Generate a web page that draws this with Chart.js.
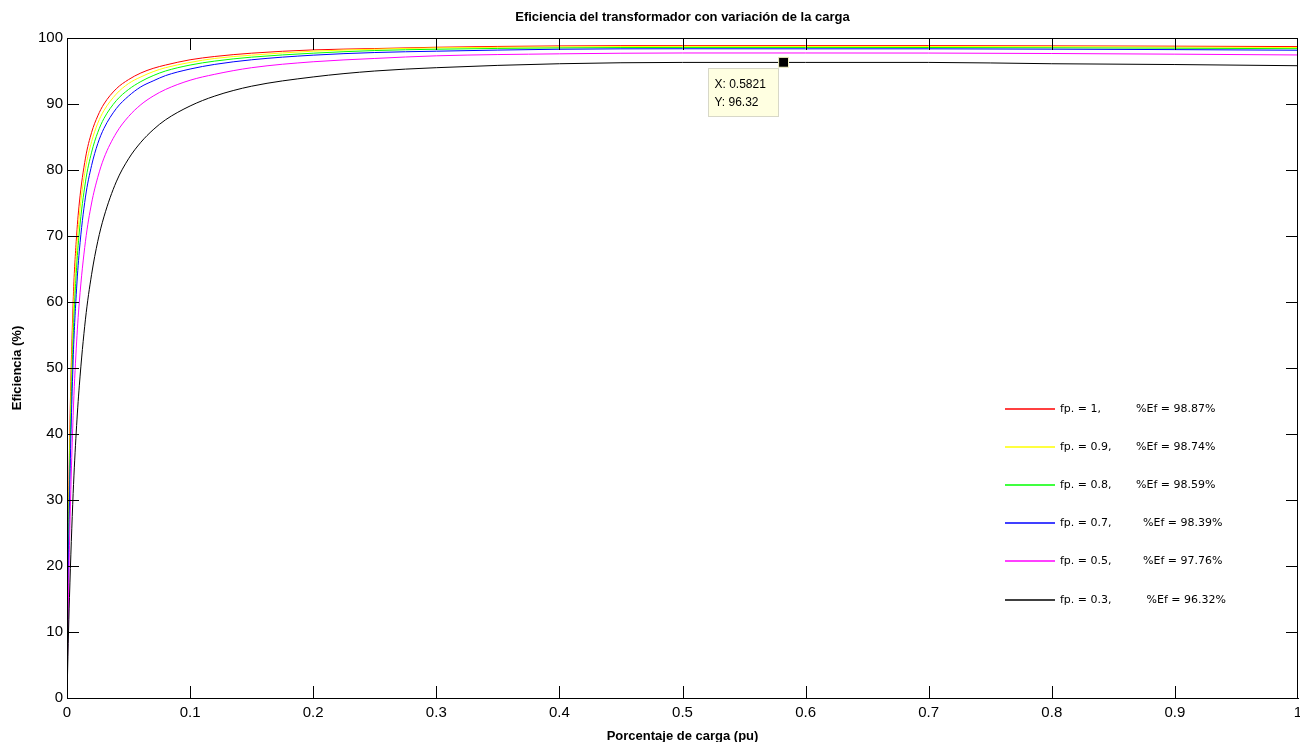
<!DOCTYPE html>
<html>
<head>
<meta charset="utf-8">
<title>Eficiencia del transformador</title>
<script src="https://cdn.jsdelivr.net/npm/chart.js@4.4.0/dist/chart.umd.min.js"></script>
<style>
    html, body { margin: 0; padding: 0; background: #fff; }
    #wrap { width: 1300px; height: 742px; }
</style>
</head>
<body>
<div id="wrap"><canvas id="myChart" width="1300" height="742"></canvas></div>
<script>
// carga en pu (eje x)
const carga = [0, 0.001, 0.002, 0.005, 0.0075, 0.01, 0.015, 0.02, 0.025, 0.03, 0.04, 0.05, 0.06, 0.07,
    0.08, 0.1, 0.12, 0.15, 0.2, 0.25, 0.3, 0.4, 0.5, 0.6, 0.7, 0.8, 0.9, 1.0];

const ef_fp10 = [0, 23.1, 37.5, 60.0, 69.2, 75.0, 81.8, 85.7, 88.2, 90.0, 92.3, 93.7, 94.7, 95.4,
    95.9, 96.7, 97.2, 97.7, 98.2, 98.4, 98.6, 98.8, 98.85, 98.85, 98.85, 98.81, 98.76, 98.70];
const ef_fp09 = [0, 21.2, 35.0, 57.4, 66.9, 73.0, 80.2, 84.3, 87.1, 89.0, 91.5, 93.1, 94.1, 94.9,
    95.5, 96.3, 96.9, 97.4, 98.0, 98.3, 98.5, 98.65, 98.73, 98.72, 98.72, 98.68, 98.62, 98.56];
const ef_fp08 = [0, 19.3, 32.4, 54.5, 64.3, 70.6, 78.2, 82.7, 85.7, 87.8, 90.5, 92.2, 93.4, 94.3,
    95.0, 95.9, 96.5, 97.1, 97.7, 98.1, 98.3, 98.5, 98.57, 98.57, 98.56, 98.52, 98.45, 98.38];
const ef_fp07 = [0, 17.3, 29.6, 51.2, 61.1, 67.7, 75.9, 80.7, 84.0, 86.3, 89.3, 91.2, 92.6, 93.5,
    94.3, 95.3, 96.0, 96.7, 97.4, 97.8, 98.0, 98.3, 98.37, 98.36, 98.36, 98.31, 98.24, 98.15];
const ef_fp05 = [0, 13.0, 23.1, 42.8, 52.9, 60.0, 69.2, 75.0, 78.9, 81.8, 85.6, 88.1, 89.9, 91.2,
    92.2, 93.6, 94.5, 95.5, 96.4, 96.9, 97.3, 97.6, 97.73, 97.73, 97.72, 97.65, 97.55, 97.43];
const ef_fp03 = [0, 8.3, 15.2, 31.0, 40.3, 47.3, 57.4, 64.2, 69.2, 72.9, 78.2, 81.7, 84.2, 86.1,
    87.6, 89.7, 91.2, 92.7, 94.1, 95.0, 95.5, 96.1, 96.3, 96.3, 96.3, 96.1, 95.98, 95.8];

// leyenda
const fp = ['1', '0.9', '0.8', '0.7', '0.5', '0.3'];
const efMax = ['98.87', '98.74', '98.59', '98.39', '97.76', '96.32'];
const espacios = [10, 7, 7, 9, 9, 10];
const colores = ['#ff0000', '#ffff00', '#00ff00', '#0000ff', '#ff00ff', '#000000'];
const series = [ef_fp10, ef_fp09, ef_fp08, ef_fp07, ef_fp05, ef_fp03];

// punto marcado (data cursor)
const datatipX = 0.5821;
const datatipY = 96.32;

const FONT = '"Liberation Sans", Arial, sans-serif';

function etiqueta_x(v) {
    return Number(v.toFixed(1)).toString();
}

function render_chart() {
    let datasets = series.map((serie, i) => ({
        type: 'line',
        label: 'fp. = ' + fp[i] + ',' + ' '.repeat(espacios[i]) + '%Ef = ' + efMax[i] + '%',
        data: carga.map((c, j) => ({ x: c, y: serie[j] })),
        borderColor: colores[i],
        borderWidth: 1,
        pointRadius: 0,
        fill: false,
        cubicInterpolationMode: 'monotone',
        order: series.length - i
    }));

    datasets.push({
        type: 'scatter',
        label: 'datatip',
        data: [{ x: datatipX, y: datatipY }],
        pointStyle: 'rect',
        pointRadius: 7,
        backgroundColor: '#000000',
        borderColor: '#f3f3c0',
        borderWidth: 1,
        order: -1
    });

    // marcas hacia adentro en los 4 lados + caja
    const marcosPlugin = {
        id: 'marcos',
        afterDatasetsDraw(chart) {
            const { ctx, chartArea, scales } = chart;
            const L = 12;
            ctx.save();
            ctx.strokeStyle = '#000';
            ctx.lineWidth = 1;
            ctx.beginPath();
            scales.x.ticks.forEach(t => {
                const px = Math.round(scales.x.getPixelForValue(t.value)) + 0.5;
                if (t.value <= 0 || t.value >= 1) return;
                ctx.moveTo(px, chartArea.bottom);
                ctx.lineTo(px, chartArea.bottom - L);
                ctx.moveTo(px, chartArea.top);
                ctx.lineTo(px, chartArea.top + L);
            });
            scales.y.ticks.forEach(t => {
                const py = Math.round(scales.y.getPixelForValue(t.value)) + 0.5;
                if (t.value <= 0 || t.value >= 100) return;
                ctx.moveTo(chartArea.left, py);
                ctx.lineTo(chartArea.left + L, py);
                ctx.moveTo(chartArea.right, py);
                ctx.lineTo(chartArea.right - L, py);
            });
            ctx.stroke();
            ctx.strokeRect(chartArea.left + 0.5, chartArea.top + 0.5,
                chartArea.right - chartArea.left - 1, chartArea.bottom - chartArea.top);
            ctx.restore();
        }
    };

    const leyendaPlugin = {
        id: 'leyenda',
        afterDatasetsDraw(chart) {
            const { ctx, chartArea } = chart;
            const x0 = Math.round(chartArea.right - 293);
            const y0 = chartArea.top + 371;
            const paso = 38.1;
            ctx.save();
            ctx.font = '11px "DejaVu Sans", sans-serif';
            ctx.textBaseline = 'middle';
            ctx.textAlign = 'left';
            series.forEach((s, i) => {
                const y = Math.round(y0 + i * paso);
                ctx.strokeStyle = colores[i];
                ctx.lineWidth = 1.4;
                ctx.beginPath();
                ctx.moveTo(x0, y);
                ctx.lineTo(x0 + 50, y);
                ctx.stroke();
                ctx.fillStyle = '#000';
                ctx.fillText(chart.data.datasets[i].label, x0 + 55, y);
            });
            ctx.restore();
        }
    };

    const datatipPlugin = {
        id: 'datatip',
        afterDraw(chart) {
            const { ctx, scales } = chart;
            const px = scales.x.getPixelForValue(datatipX);
            const py = scales.y.getPixelForValue(datatipY);
            const bx = Math.round(px) - 76 + 0.5;
            const by = Math.round(py) + 6 + 0.5;
            ctx.save();
            ctx.fillStyle = '#ffffe1';
            ctx.strokeStyle = '#d8d8c8';
            ctx.lineWidth = 1;
            ctx.fillRect(bx, by, 70, 48);
            ctx.strokeRect(bx, by, 70, 48);
            ctx.fillStyle = '#000';
            ctx.font = '12px ' + FONT;
            ctx.textBaseline = 'middle';
            ctx.fillText('X: ' + datatipX, bx + 6, by + 16);
            ctx.fillText('Y: ' + datatipY, bx + 6, by + 34);
            ctx.restore();
        }
    };

    let ctx = document.getElementById('myChart');
    new Chart(ctx, {
        data: { datasets: datasets },
        options: {
            responsive: false,
            devicePixelRatio: 1,
            animation: false,
            layout: { autoPadding: false, padding: { left: 0, right: 2, top: 0, bottom: 0 } },
            plugins: {
                legend: { display: false },
                tooltip: { enabled: false },
                title: { display: false }
            },
            scales: {
                x: {
                    type: 'linear',
                    position: 'bottom',
                    min: 0,
                    max: 1,
                    grid: { display: false, drawTicks: false },
                    border: { display: true, color: '#000', width: 1 },
                    ticks: {
                        stepSize: 0.1,
                        color: '#000',
                        padding: 6,
                        maxRotation: 0,
                        autoSkip: false,
                        font: { family: FONT, size: 15 },
                        callback: etiqueta_x
                    },
                    title: {
                        display: true,
                        text: 'Porcentaje de carga (pu)',
                        color: '#000',
                        font: { family: FONT, size: 13, weight: 'bold' },
                        padding: { top: 0, bottom: -2 }
                    },
                    afterFit(scale) {
                        scale.height = 44;
                        scale.paddingLeft = 0;
                        scale.paddingRight = 0;
                    }
                },
                x2: {
                    type: 'linear',
                    position: 'top',
                    min: 0,
                    max: 1,
                    grid: { display: false, drawTicks: false },
                    border: { display: false },
                    ticks: { display: false },
                    title: {
                        display: true,
                        text: 'Eficiencia del transformador con variación de la carga',
                        color: '#000',
                        font: { family: FONT, size: 13, weight: 'bold' },
                        padding: { top: 10, bottom: 0 }
                    },
                    afterFit(scale) {
                        scale.height = 38;
                        scale.paddingLeft = 0;
                        scale.paddingRight = 0;
                    }
                },
                y: {
                    type: 'linear',
                    position: 'left',
                    min: 0,
                    max: 100,
                    grid: { display: false, drawTicks: false },
                    border: { display: true, color: '#000', width: 1 },
                    ticks: {
                        stepSize: 10,
                        color: '#000',
                        padding: 4,
                        font: { family: FONT, size: 15 }
                    },
                    title: {
                        display: true,
                        text: 'Eficiencia (%)',
                        color: '#000',
                        font: { family: FONT, size: 13, weight: 'bold' },
                        padding: { top: 10, bottom: 0 }
                    },
                    afterFit(scale) {
                        scale.width = 67;
                    }
                }
            }
        },
        plugins: [marcosPlugin, leyendaPlugin, datatipPlugin]
    });
}

document.addEventListener('DOMContentLoaded', () => {
    render_chart();
});
</script>
</body>
</html>
